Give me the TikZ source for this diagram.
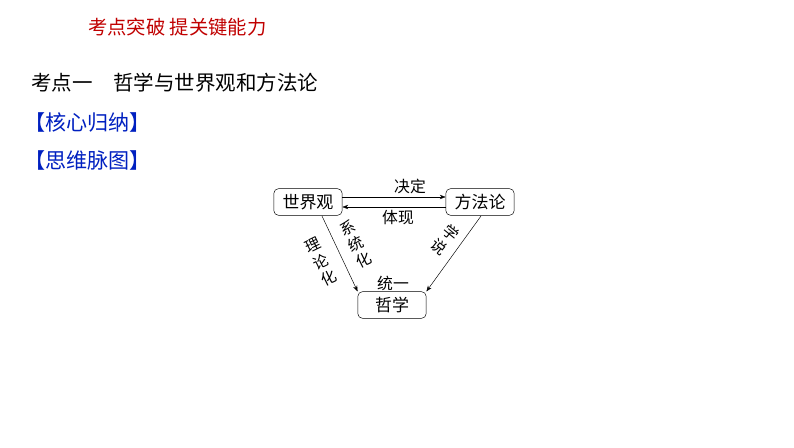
\documentclass[tikz,border=0pt]{standalone}
\usepackage{fontspec}
\setmainfont{Noto Sans CJK SC}
\usetikzlibrary{arrows.meta}
\definecolor{hdred}{RGB}{192,0,0}
\definecolor{hdblue}{RGB}{0,32,192}
\begin{document}
\begin{tikzpicture}[x=0.03cm,y=-0.03cm,
    box/.style={draw=black, rounded corners=4pt, font=\fontsize{14.5}{15}\selectfont, minimum width=2.05cm, minimum height=0.8cm, inner sep=1pt},
    lbl/.style={font=\fontsize{13.5}{14}\selectfont, inner sep=0pt},
    col/.style={lbl, align=center, font=\fontsize{13}{15.5}\selectfont},
    every node/.style={}]
    \useasboundingbox (0,0) rectangle (794,447);

    \node[anchor=west, text=hdred, font=\fontsize{16.5}{17}\selectfont] (head) at (84,27) {考点突破 提关键能力};
    \node[anchor=west, font=\fontsize{17.5}{18}\selectfont] (topic) at (27,83) {考点一\quad 哲学与世界观和方法论};
    \node[anchor=west, text=hdblue, font=\fontsize{18}{19}\selectfont] (core) at (20,122) {【核心归纳】};
    \node[anchor=west, text=hdblue, font=\fontsize{18}{19}\selectfont] (mind) at (20,160) {【思维脉图】};

    \node[box] (sjg) at (308,202) {世界观};
    \node[box] (ffl) at (480,202) {方法论};
    \node[box] (zx)  at (392,305) {哲学};

    \draw[-{Stealth[length=5pt]}] (sjg.east |- 0,197) -- (ffl.west |- 0,197);
    \draw[-{Stealth[length=5pt]}] (ffl.west |- 0,207) -- (sjg.east |- 0,207);
    \node[lbl] (jd) at (410,186) {决定};
    \node[lbl] (tx) at (398,218) {体现};

    \coordinate (l1) at (322,216);
    \coordinate (r1) at (481,216);
    \draw[-{Stealth[length=5pt]}] (l1) -- (zx.north west);
    \draw[-{Stealth[length=5pt]}] (r1) -- (zx.north east);

    \node[col, rotate=26] (llh) at (321,262) {理\\论\\化};
    \node[col, rotate=26] (xth) at (356,244) {系\\统\\化};
    \node[col, rotate=-39] (xs) at (445,240) {学\\说};
    \node[lbl] (ty) at (393,283) {统一};
\end{tikzpicture}
\end{document}
